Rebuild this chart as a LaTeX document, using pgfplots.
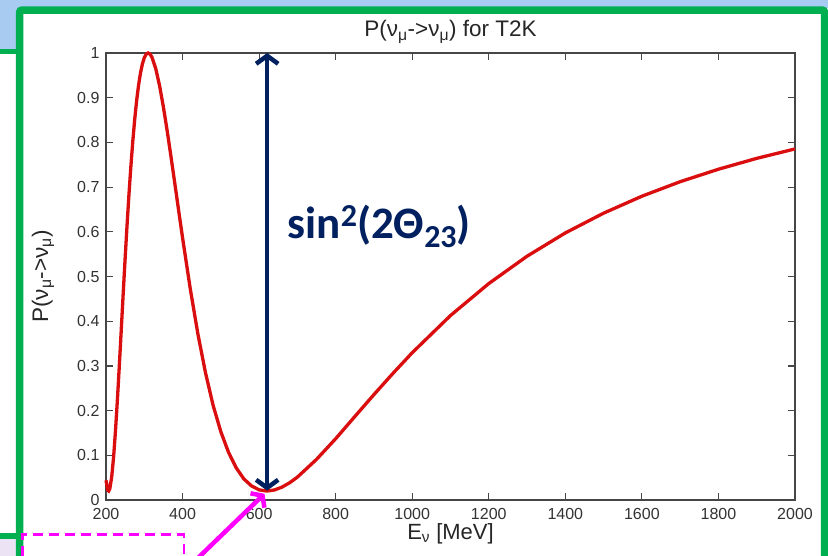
\documentclass[border=0pt]{standalone}
\usepackage{fontspec}
\setmainfont{Liberation Sans}
\newfontfamily\calibri{Carlito}
\usepackage{pgfplots}
\pgfplotsset{compat=1.18}
\usetikzlibrary{arrows.meta}

\definecolor{slidegreen}{RGB}{0,176,80}
\definecolor{slideblue}{RGB}{168,203,242}
\definecolor{lavender}{RGB}{236,228,244}
\definecolor{navy}{RGB}{0,32,96}
\definecolor{curvered}{RGB}{218,14,14}
\definecolor{axisgray}{RGB}{70,70,70}
\definecolor{pinkmag}{RGB}{255,0,255}

\begin{document}
\begin{tikzpicture}
\path[use as bounding box] (0,0) rectangle (828pt,-556pt);
% slide background and frame, in pixel units (y down)
\begin{scope}[x=1pt,y=-1pt]
\clip (0,0) rectangle (828,556);
\fill[white] (0,0) rectangle (828,556);
\fill[slideblue] (0,0) rectangle (828,8);
\fill[slideblue] (0,0) rectangle (17,50);
\fill[lavender] (0,539) rectangle (17,556);
\draw[slidegreen, line width=4.5pt] (0,51.5) -- (20,51.5);
\draw[slidegreen, line width=6pt] (0,536) -- (20,536);
\draw[slidegreen, line width=7.5pt, rounded corners=2pt] (19.7,620) -- (19.7,10.2) -- (824.5,10.2) -- (824.5,620);
\draw[pinkmag, line width=2.5pt, dash pattern=on 10pt off 6pt] (22.7,620) -- (22.7,534.5) -- (184,534.5) -- (184,620);
\end{scope}

\begin{axis}[
    at={(106pt,-500pt)}, anchor=south west,
    scale only axis, width=689pt, height=447pt,
    xmin=200, xmax=2000, ymin=0, ymax=1,
    xtick={200,400,...,2000},
    ytick={0,0.1,0.2,0.3,0.4,0.5,0.6,0.7,0.8,0.9,1},
    tick align=inside, tick pos=both,
    major tick length=7pt,
    axis line style={axisgray, line width=1.4pt},
    every tick/.style={axisgray, line width=1.2pt},
    tick label style={font=\fontsize{16}{18}\selectfont, text=black!80},
    xticklabel style={yshift=-5pt},
    yticklabel style={xshift=-3pt},
    /pgf/number format/assume math mode=true,
    /pgf/number format/1000 sep={},
    every axis title shift=0pt,
    title={P(ν\textsubscript{μ}->ν\textsubscript{μ}) for T2K},
    title style={at={(axis description cs:0.5,1.0358)}, anchor=base, font=\fontsize{22.5}{26}\selectfont, text=black!85},
    xlabel={E\textsubscript{ν} [MeV]},
    xlabel style={at={(axis description cs:0.5,-0.088)}, anchor=base, font=\fontsize{22}{26}\selectfont, text=black!85},
    ylabel={P(ν\textsubscript{μ}->ν\textsubscript{μ})},
    ylabel style={at={(axis description cs:-0.084,0.5)}, anchor=base, font=\fontsize{22.5}{26}\selectfont, text=black!85},
    clip=false,
]
\addplot[curvered, line width=3.3pt] coordinates {
(200,0.044) (205,0.0213) (207,0.020) (210,0.0253) (215,0.0521) (220,0.0976)
(225,0.1578) (230,0.2273) (235,0.3033) (240,0.3829) (245,0.4630) (250,0.5407)
(255,0.6149) (260,0.6838) (265,0.7465) (270,0.8026) (275,0.8515) (280,0.8931)
(285,0.9274) (290,0.9547) (295,0.9752) (300,0.9893) (305,0.9974) (310,1.000)
(315,0.9976) (320,0.9906) (330,0.9649) (340,0.9266) (350,0.8790) (360,0.8250)
(370,0.7669) (380,0.7069) (390,0.6464) (400,0.5867) (420,0.4733) (440,0.3717)
(460,0.2844) (480,0.2111) (500,0.1528) (520,0.1068) (540,0.0722) (560,0.0473)
(580,0.0316) (600,0.0227) (620,0.020) (640,0.0224) (660,0.0289) (680,0.0387)
(700,0.0512) (750,0.0909) (800,0.1371) (850,0.1867) (900,0.2359) (950,0.2836)
(1000,0.3295) (1100,0.4127) (1200,0.4842) (1300,0.5454) (1400,0.5975)
(1500,0.6417) (1600,0.6796) (1700,0.7121) (1800,0.7400) (1900,0.7643) (2000,0.7854)
};
\draw[navy, line width=4.5pt, {Straight Barb[length=8pt,width=22pt]}-{Straight Barb[length=8pt,width=22pt]}]
    (axis cs:621,1) -- (axis cs:621,0.021);
\node[anchor=base west, text=navy, font=\calibri\bfseries\fontsize{45}{50}\selectfont, inner sep=0pt]
    at (axis cs:674,0.586) {sin{\fontsize{32}{34}\selectfont\raisebox{0.36em}{2}}(2Θ{\fontsize{32}{34}\selectfont\raisebox{-0.28em}{23}})};
\draw[pinkmag, line width=4.5pt, -{Straight Barb[length=7pt,width=20pt]}]
    (axis cs:365,-0.192) -- (axis cs:614,0.014);
\end{axis}
\end{tikzpicture}
\end{document}
